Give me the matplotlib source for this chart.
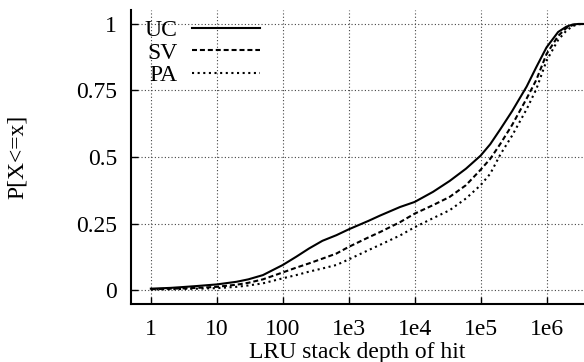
import matplotlib
matplotlib.use("Agg")
import matplotlib.pyplot as plt
import numpy as np

# stack depth samples
depth = [1, 2, 3, 5, 10, 20, 30, 50, 100, 160, 250, 400, 650,
         1e3, 2e3, 3e3, 6e3, 1e4, 1.9e4, 3.4e4, 6e4,
         1e5, 1.4e5, 2e5, 3e5, 5e5, 7e5, 1e6, 1.5e6, 2e6, 2.5e6, 3e6, 3.7e6]

uc = [0.005, 0.008, 0.011, 0.015, 0.021, 0.031, 0.04, 0.056, 0.094, 0.125, 0.156, 0.185, 0.206,
      0.228, 0.26, 0.28, 0.312, 0.331, 0.369, 0.41, 0.456,
      0.505, 0.548, 0.605, 0.672, 0.765, 0.838, 0.912, 0.97, 0.99, 0.998, 1.0, 1.0]
sv = [0.003, 0.005, 0.006, 0.008, 0.012, 0.02, 0.027, 0.04, 0.066, 0.084, 0.10, 0.118, 0.137,
      0.162, 0.198, 0.218, 0.255, 0.287, 0.319, 0.35, 0.394,
      0.452, 0.493, 0.55, 0.62, 0.72, 0.79, 0.887, 0.955, 0.985, 0.996, 1.0, 1.0]
pa = [0.002, 0.003, 0.004, 0.005, 0.007, 0.012, 0.017, 0.025, 0.044, 0.056, 0.069, 0.081, 0.094,
      0.115, 0.15, 0.17, 0.205, 0.236, 0.27, 0.30, 0.344,
      0.394, 0.437, 0.51, 0.58, 0.68, 0.755, 0.862, 0.94, 0.975, 0.992, 0.999, 1.0]

series = [("UC", uc, "-"), ("SV", sv, (0, (2.4, 1.4))), ("PA", pa, (0, (1.0, 1.7)))]

xticks = [1, 10, 100, 1e3, 1e4, 1e5, 1e6]
xticklabels = ["1", "10", "100", "1e3", "1e4", "1e5", "1e6"]
yticks = [0, 0.25, 0.5, 0.75, 1]
yticklabels = ["0", "0.25", "0.5", "0.75", "1"]

plt.rcParams["font.family"] = ["Liberation Serif", "DejaVu Serif"]
plt.rcParams["font.size"] = 17

fig = plt.figure(figsize=(5.84, 3.62), dpi=100)
ax = fig.add_axes([131 / 584, 58 / 362, 453 / 584, 294 / 362])

for name, vals, ls in series:
    ax.plot(depth, vals, color="black", linestyle=ls, linewidth=1.5, label=name)

ax.set_xscale("log")
ax.set_xlim(0.5, 3.7e6)
ax.set_ylim(-0.0526, 1.0526)
ax.set_xticks(xticks)
ax.set_xticklabels(xticklabels)
ax.set_yticks(yticks)
ax.set_yticklabels(yticklabels)
ax.minorticks_off()
ax.tick_params(axis="both", direction="in", length=5, width=1)
ax.tick_params(axis="x", pad=11)
ax.tick_params(axis="y", pad=10)

ax.grid(True, color="#444444", linestyle=(0, (1, 2)), linewidth=0.8)
ax.spines["top"].set_visible(False)
ax.spines["right"].set_visible(False)
ax.spines["left"].set_linewidth(1.5)
ax.spines["bottom"].set_linewidth(1.5)

ax.set_xlabel("LRU stack depth of hit")
ax.set_ylabel("P[X<=x]")
ax.xaxis.set_label_coords(0.5, -0.13)
ax.yaxis.set_label_coords(-0.228, 0.5)

ax.legend(loc="upper left", frameon=False, markerfirst=False,
          handlelength=2.9, handletextpad=0.6, labelspacing=0.05,
          borderaxespad=0.0, bbox_to_anchor=(0.01, 1.0))

fig.savefig("out.png", dpi=100)
